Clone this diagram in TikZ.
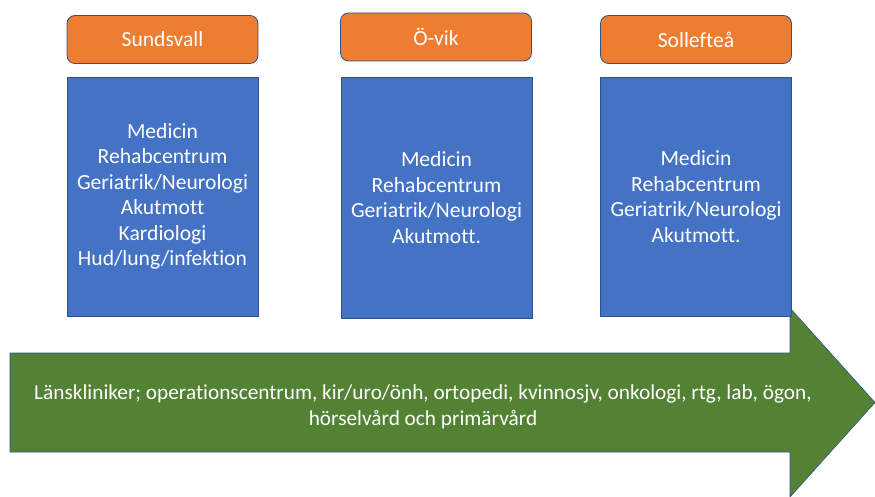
\documentclass[tikz,border=0pt]{standalone}
\usepackage{fontspec}
\setmainfont[Ligatures=NoCommon]{Carlito}
\definecolor{hdrorange}{HTML}{ED7D31}
\definecolor{unitblue}{HTML}{4472C4}
\definecolor{flowgreen}{HTML}{548235}
\definecolor{edgeblue}{HTML}{2F528F}
\begin{document}
\begin{tikzpicture}[x=1pt,y=-1pt,
  header/.style={draw=edgeblue, line width=0.8pt, fill=hdrorange, rounded corners=8pt,
    minimum width=191pt, minimum height=48pt, text=white, inner sep=0pt,
    font=\fontsize{21.6}{25}\selectfont},
  unit/.style={draw=edgeblue, line width=0.6pt, fill=unitblue,
    minimum width=191pt, minimum height=240pt, text=white, inner sep=0pt, align=center,
    font=\fontsize{21.6}{25.5}\selectfont},
  flowtext/.style={text=white, align=center, inner sep=0pt,
    font=\fontsize{21.3}{26}\selectfont}]
\useasboundingbox (0,0) rectangle (875,497);
% flow arrow along the bottom
\path[draw=edgeblue, line width=0.6pt, fill=flowgreen]
  (10,353) -- (790,353) -- (790,308) -- (875,402.5) -- (790,497) -- (790,452) -- (10,452) -- cycle;
\node[flowtext] (flow) at (423,407) {Länskliniker; operationscentrum, kir/uro/önh, ortopedi, kvinnosjv, onkologi, rtg, lab, ögon,\\hörselvård och primärvård};
% site headers
\node[header] (hSun) at (162.5,39.5) {Sundsvall};
\node[header] (hOvik) at (436,37) {Ö-vik};
\node[header] (hSol) at (696,39.5) {Sollefteå};
% units per site
\node[unit, minimum height=239pt] (uSun) at (162.5,196.5) {Medicin\\Rehabcentrum\\Geriatrik/Neurologi\\Akutmott\\Kardiologi\\Hud/lung/infektion};
\node[unit, minimum height=241pt] (uOvik) at (436.5,197.5) {Medicin\\Rehabcentrum\\Geriatrik/Neurologi\\Akutmott.};
\node[unit, minimum height=239pt] (uSol) at (696,196.5) {Medicin\\Rehabcentrum\\Geriatrik/Neurologi\\Akutmott.};
\end{tikzpicture}
\end{document}
